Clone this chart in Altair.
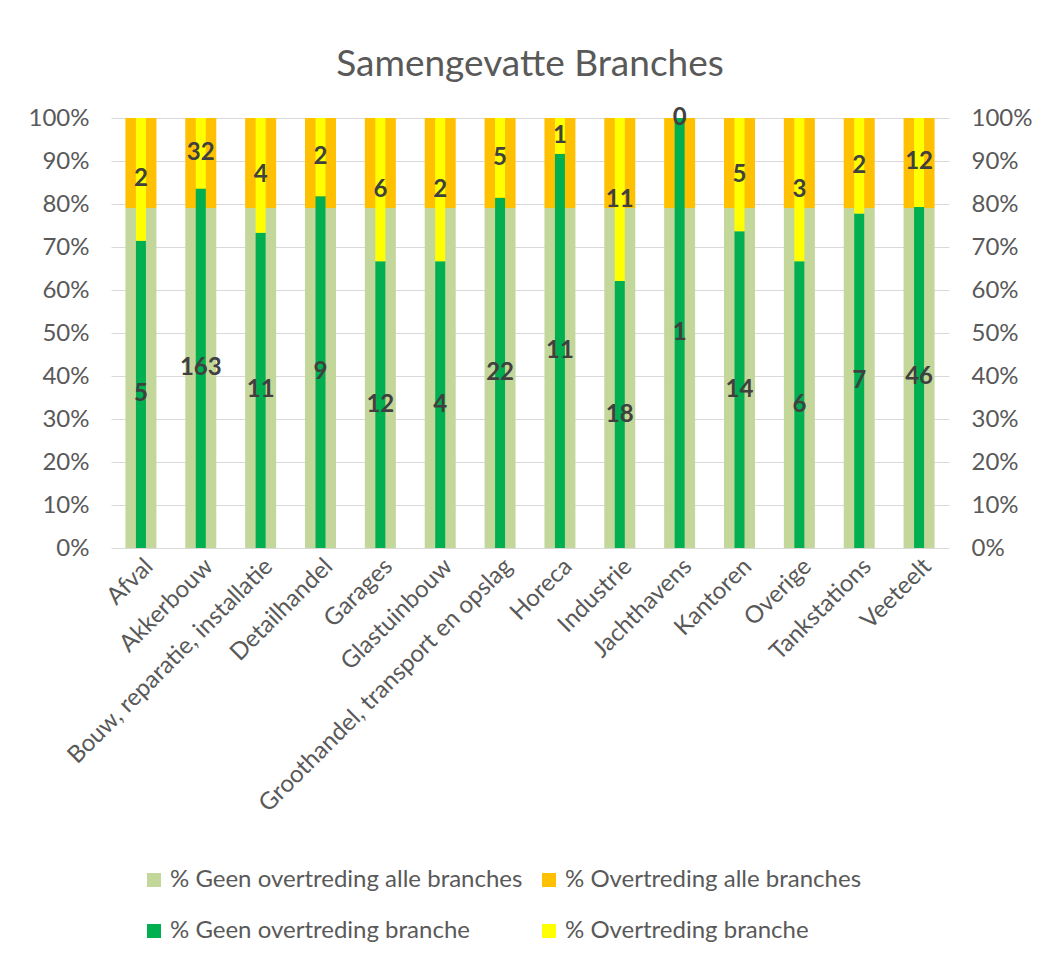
import altair as alt
import pandas as pd

categories = ["Afval", "Akkerbouw", "Bouw, reparatie, installatie", "Detailhandel", "Garages",
              "Glastuinbouw", "Groothandel, transport en opslag", "Horeca", "Industrie",
              "Jachthavens", "Kantoren", "Overige", "Tankstations", "Veeteelt"]
geen_branche = [5, 163, 11, 9, 12, 4, 22, 11, 18, 1, 14, 6, 7, 46]
overtreding_branche = [2, 32, 4, 2, 6, 2, 5, 1, 11, 0, 5, 3, 2, 12]
alle_geen = sum(geen_branche)
alle_overtreding = sum(overtreding_branche)

series = ["% Geen overtreding alle branches", "% Overtreding alle branches",
          "% Geen overtreding branche", "% Overtreding branche"]
colors = ["#C4D79B", "#FFC000", "#00B050", "#FFFF00"]

rows_alle, rows_br = [], []
for i, c in enumerate(categories):
    rows_alle.append({"cat": c, "serie": series[0], "v": alle_geen, "ord": 0})
    rows_alle.append({"cat": c, "serie": series[1], "v": alle_overtreding, "ord": 1})
    rows_br.append({"cat": c, "serie": series[2], "v": geen_branche[i], "ord": 0})
    rows_br.append({"cat": c, "serie": series[3], "v": overtreding_branche[i], "ord": 1})
df_alle = pd.DataFrame(rows_alle)
df_br = pd.DataFrame(rows_br)

FONT = "Lato"
GRAY = "#595959"
FS = 24

x_enc = alt.X("cat:N", sort=categories,
              scale=alt.Scale(paddingInner=0, paddingOuter=0),
              axis=alt.Axis(title=None, labelAngle=-45, labelFont=FONT, labelFontSize=FS,
                            labelColor=GRAY, ticks=False, domain=False, labelPadding=6,
                            labelLimit=500))
color_enc = alt.Color("serie:N",
                      scale=alt.Scale(domain=series, range=colors),
                      legend=alt.Legend(title=None, orient="none", legendX=31, legendY=750,
                                        direction="horizontal",
                                        columns=2, symbolType="square", symbolSize=196,
                                        symbolStrokeWidth=0, labelFont=FONT,
                                        labelFontSize=FS, labelColor=GRAY,
                                        rowPadding=27, columnPadding=14, labelOffset=4,
                                        labelLimit=600, padding=0))

wide = alt.Chart(df_alle).mark_bar(size=31).encode(
    x=x_enc,
    y=alt.Y("v:Q", stack="normalize", scale=alt.Scale(domain=[0, 1]),
            axis=alt.Axis(title=None, format=".0%", values=[i / 10 for i in range(11)],
                          labelFont=FONT, labelFontSize=FS, labelColor=GRAY,
                          ticks=False, domain=False, gridColor="#D9D9D9",
                          labelPadding=22, orient="left")),
    color=color_enc,
    order=alt.Order("ord:Q", sort="ascending"),
)

narrow = alt.Chart(df_br).mark_bar(size=10).encode(
    x=x_enc,
    y=alt.Y("v:Q", stack="normalize", scale=alt.Scale(domain=[0, 1]),
            axis=alt.Axis(title=None, format=".0%", values=[i / 10 for i in range(11)],
                          labelFont=FONT, labelFontSize=FS, labelColor=GRAY,
                          ticks=False, domain=False, grid=False,
                          labelPadding=22, orient="right")),
    color=color_enc,
    order=alt.Order("ord:Q", sort="ascending"),
)

labels = alt.Chart(df_br).transform_joinaggregate(
    total="sum(v)", groupby=["cat"]
).transform_window(
    cum="sum(v)", groupby=["cat"], sort=[alt.SortField("ord", order="ascending")],
    frame=[None, 0]
).transform_calculate(
    mid="(datum.cum - datum.v / 2) / datum.total"
).mark_text(font=FONT, fontSize=24, fontWeight="bold", color="#404040").encode(
    x=alt.X("cat:N", sort=categories, scale=alt.Scale(paddingInner=0, paddingOuter=0)),
    y=alt.Y("mid:Q", scale=alt.Scale(domain=[0, 1]), axis=None),
    text=alt.Text("v:Q"),
)

chart = alt.layer(wide, narrow, labels).resolve_scale(y="independent").properties(
    width=838, height=430,
    title=alt.Title("Samengevatte Branches", font=FONT, fontSize=37, fontWeight="normal",
                    color=GRAY, anchor="middle", offset=22),
    autosize=alt.AutoSizeParams(type="none"),
    padding={"left": 103, "top": 110, "right": 84, "bottom": 405},
    background="white",
).configure_view(stroke=None)

chart.save("out.html", embed_options={"renderer": "svg", "actions": False})
